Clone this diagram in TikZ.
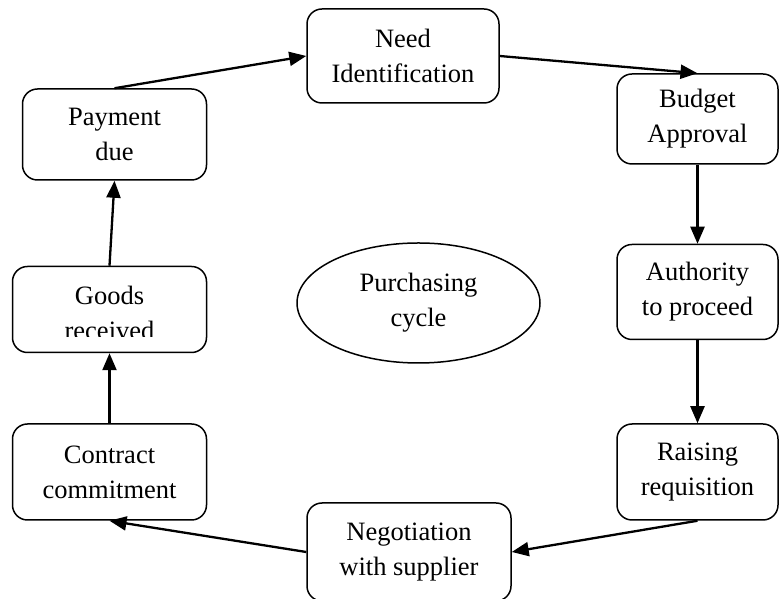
\documentclass[tikz,border=0pt]{standalone}
\usepackage{fontspec}
\setmainfont{Liberation Serif}
\usetikzlibrary{positioning,shapes.geometric,arrows.meta}
\tikzset{
	stage/.style={draw, rounded corners=15pt, line width=1.5pt, align=center, inner sep=0pt,
		font=\fontsize{26.5}{35}\selectfont, minimum width=161pt},
	flow/.style={-{Triangle[length=17pt,width=14pt]}, line width=2.3pt}
}
\begin{document}
\begin{tikzpicture}[x=1pt,y=1pt]
		\useasboundingbox (0,0) rectangle (779,599);
		\node (need) [stage, minimum width=192pt, minimum height=94pt] at (403,543) {Need\\Identification};
		\node (budget) [stage, minimum height=90pt] at (697.5,480) {Budget\\Approval};
		\node (authority) [stage, minimum height=95pt, below=79pt of budget] {Authority\\to proceed};
		\node (raising) [stage, minimum height=96pt, below=83pt of authority] {Raising\\requisition};
		\node (negotiation) [stage, minimum width=204pt, minimum height=98pt] at (409,47) {Negotiation\\with supplier};
		\node (contract) [stage, minimum width=194pt, minimum height=96pt, left=409pt of raising] {Contract\\commitment};
		\node (goods) [stage, minimum width=194pt, minimum height=86pt, above=70pt of contract] {};
		\node (payment) [stage, minimum width=184pt, minimum height=91pt, above=85pt of goods, xshift=5pt] {Payment\\due};
		\node (cycle) [draw, ellipse, line width=1.5pt, minimum width=243pt, minimum height=120pt,
			font=\fontsize{26.5}{35}\selectfont, align=center] at (418.5,296) {Purchasing\\cycle};
		% text of the goods box is cut at the bottom
		\begin{scope}
		\clip (goods.north west) rectangle ([yshift=17pt]goods.south east);
		\node (goodstext) [align=center, inner sep=0pt, font=\fontsize{26.5}{35}\selectfont, yshift=-3pt] at (goods) {Goods\\received};
		\end{scope}
		\draw [flow] (payment.north) -- (need.west);
		\draw [flow] (need.east) -- (budget.north);
		\draw [flow] (budget.south) -- (authority.north);
		\draw [flow] (authority.south) -- (raising.north);
		\draw [flow] (raising.south) -- (negotiation.east);
		\draw [flow] (negotiation.west) -- (contract.south);
		\draw [flow] (contract.north) -- (goods.south);
		\draw [flow] (goods.north) -- (payment.south);
\end{tikzpicture}
\end{document}
